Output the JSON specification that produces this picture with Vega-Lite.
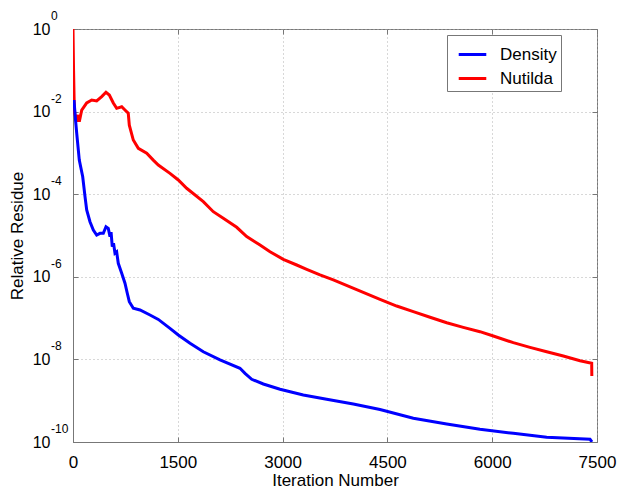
{
  "$schema": "https://vega.github.io/schema/vega-lite/v6.json",
  "autosize": "none",
  "width": 524,
  "height": 413,
  "padding": {"left": 73, "top": 29, "right": 20, "bottom": 54},
  "background": "white",
  "config": {
    "font": "Liberation Sans",
    "view": {"stroke": "#777777", "strokeWidth": 1},
    "axis": {
      "domainColor": "#777777",
      "tickColor": "#777777",
      "gridColor": "#b0b0b0",
      "gridDash": [1, 3],
      "gridWidth": 1,
      "labelColor": "black",
      "titleColor": "black",
      "labelFont": "Liberation Sans",
      "titleFont": "Liberation Sans",
      "titleFontWeight": "normal",
      "labelFontSize": 17,
      "titleFontSize": 17
    }
  },
  "datasets": {
    "exps": [
      {"v": 1, "e": "0"},
      {"v": 0.01, "e": "-2"},
      {"v": 0.0001, "e": "-4"},
      {"v": 0.000001, "e": "-6"},
      {"v": 1e-8, "e": "-8"},
      {"v": 1e-10, "e": "-10"}
    ],
    "curves": [
      {"series": "Nutilda", "iter": 0, "res": 1.0},
      {"series": "Nutilda", "iter": 8, "res": 0.1},
      {"series": "Nutilda", "iter": 16, "res": 0.02},
      {"series": "Nutilda", "iter": 24, "res": 0.0092},
      {"series": "Nutilda", "iter": 53, "res": 0.0057},
      {"series": "Nutilda", "iter": 76, "res": 0.0083},
      {"series": "Nutilda", "iter": 90, "res": 0.0057},
      {"series": "Nutilda", "iter": 125, "res": 0.0109},
      {"series": "Nutilda", "iter": 196, "res": 0.0162},
      {"series": "Nutilda", "iter": 268, "res": 0.0191},
      {"series": "Nutilda", "iter": 339, "res": 0.0181},
      {"series": "Nutilda", "iter": 411, "res": 0.023},
      {"series": "Nutilda", "iter": 472, "res": 0.0293},
      {"series": "Nutilda", "iter": 520, "res": 0.0252},
      {"series": "Nutilda", "iter": 577, "res": 0.0162},
      {"series": "Nutilda", "iter": 625, "res": 0.012},
      {"series": "Nutilda", "iter": 697, "res": 0.0131},
      {"series": "Nutilda", "iter": 744, "res": 0.0109},
      {"series": "Nutilda", "iter": 791, "res": 0.0091},
      {"series": "Nutilda", "iter": 806, "res": 0.0047},
      {"series": "Nutilda", "iter": 863, "res": 0.00205},
      {"series": "Nutilda", "iter": 935, "res": 0.00129},
      {"series": "Nutilda", "iter": 1055, "res": 0.00098},
      {"series": "Nutilda", "iter": 1149, "res": 0.00067},
      {"series": "Nutilda", "iter": 1221, "res": 0.00051},
      {"series": "Nutilda", "iter": 1388, "res": 0.00032},
      {"series": "Nutilda", "iter": 1507, "res": 0.000221},
      {"series": "Nutilda", "iter": 1627, "res": 0.000139},
      {"series": "Nutilda", "iter": 1865, "res": 6.6e-5},
      {"series": "Nutilda", "iter": 2008, "res": 3.77e-5},
      {"series": "Nutilda", "iter": 2151, "res": 2.61e-5},
      {"series": "Nutilda", "iter": 2343, "res": 1.58e-5},
      {"series": "Nutilda", "iter": 2486, "res": 9.4e-6},
      {"series": "Nutilda", "iter": 2677, "res": 5.9e-6},
      {"series": "Nutilda", "iter": 2820, "res": 4.05e-6},
      {"series": "Nutilda", "iter": 3010, "res": 2.65e-6},
      {"series": "Nutilda", "iter": 3202, "res": 1.93e-6},
      {"series": "Nutilda", "iter": 3345, "res": 1.52e-6},
      {"series": "Nutilda", "iter": 3535, "res": 1.11e-6},
      {"series": "Nutilda", "iter": 3726, "res": 8.4e-7},
      {"series": "Nutilda", "iter": 4060, "res": 4.9e-7},
      {"series": "Nutilda", "iter": 4394, "res": 2.85e-7},
      {"series": "Nutilda", "iter": 4633, "res": 1.96e-7},
      {"series": "Nutilda", "iter": 4871, "res": 1.43e-7},
      {"series": "Nutilda", "iter": 5110, "res": 1.05e-7},
      {"series": "Nutilda", "iter": 5349, "res": 7.7e-8},
      {"series": "Nutilda", "iter": 5586, "res": 5.98e-8},
      {"series": "Nutilda", "iter": 5825, "res": 4.69e-8},
      {"series": "Nutilda", "iter": 6016, "res": 3.69e-8},
      {"series": "Nutilda", "iter": 6302, "res": 2.54e-8},
      {"series": "Nutilda", "iter": 6541, "res": 1.96e-8},
      {"series": "Nutilda", "iter": 6780, "res": 1.53e-8},
      {"series": "Nutilda", "iter": 7018, "res": 1.21e-8},
      {"series": "Nutilda", "iter": 7257, "res": 9.3e-9},
      {"series": "Nutilda", "iter": 7424, "res": 8.05e-9},
      {"series": "Nutilda", "iter": 7426, "res": 3.96e-9},
      {"series": "Density", "iter": 14, "res": 0.0191},
      {"series": "Density", "iter": 36, "res": 0.0063},
      {"series": "Density", "iter": 53, "res": 0.003},
      {"series": "Density", "iter": 90, "res": 0.00067},
      {"series": "Density", "iter": 139, "res": 0.000265},
      {"series": "Density", "iter": 172, "res": 8.7e-5},
      {"series": "Density", "iter": 196, "res": 4.14e-5},
      {"series": "Density", "iter": 243, "res": 2.16e-5},
      {"series": "Density", "iter": 291, "res": 1.36e-5},
      {"series": "Density", "iter": 339, "res": 1.03e-5},
      {"series": "Density", "iter": 386, "res": 1.13e-5},
      {"series": "Density", "iter": 434, "res": 1.13e-5},
      {"series": "Density", "iter": 472, "res": 1.63e-5},
      {"series": "Density", "iter": 505, "res": 1.49e-5},
      {"series": "Density", "iter": 530, "res": 9.4e-6},
      {"series": "Density", "iter": 545, "res": 1.2e-5},
      {"series": "Density", "iter": 562, "res": 5.36e-6},
      {"series": "Density", "iter": 580, "res": 6.5e-6},
      {"series": "Density", "iter": 601, "res": 3.71e-6},
      {"series": "Density", "iter": 625, "res": 4.0e-6},
      {"series": "Density", "iter": 648, "res": 2.12e-6},
      {"series": "Density", "iter": 697, "res": 1.22e-6},
      {"series": "Density", "iter": 744, "res": 6.97e-7},
      {"series": "Density", "iter": 777, "res": 3.99e-7},
      {"series": "Density", "iter": 806, "res": 2.5e-7},
      {"series": "Density", "iter": 863, "res": 1.73e-7},
      {"series": "Density", "iter": 959, "res": 1.57e-7},
      {"series": "Density", "iter": 1102, "res": 1.19e-7},
      {"series": "Density", "iter": 1221, "res": 9.3e-8},
      {"series": "Density", "iter": 1388, "res": 5.66e-8},
      {"series": "Density", "iter": 1507, "res": 3.9e-8},
      {"series": "Density", "iter": 1675, "res": 2.45e-8},
      {"series": "Density", "iter": 1865, "res": 1.53e-8},
      {"series": "Density", "iter": 2104, "res": 9.7e-9},
      {"series": "Density", "iter": 2390, "res": 6.09e-9},
      {"series": "Density", "iter": 2462, "res": 4.6e-9},
      {"series": "Density", "iter": 2558, "res": 3.3e-9},
      {"series": "Density", "iter": 2724, "res": 2.54e-9},
      {"series": "Density", "iter": 2963, "res": 1.89e-9},
      {"series": "Density", "iter": 3296, "res": 1.37e-9},
      {"series": "Density", "iter": 3631, "res": 1.08e-9},
      {"series": "Density", "iter": 4012, "res": 8.3e-10},
      {"series": "Density", "iter": 4394, "res": 6.1e-10},
      {"series": "Density", "iter": 4871, "res": 3.75e-10},
      {"series": "Density", "iter": 5349, "res": 2.73e-10},
      {"series": "Density", "iter": 5825, "res": 2.03e-10},
      {"series": "Density", "iter": 6302, "res": 1.62e-10},
      {"series": "Density", "iter": 6780, "res": 1.3e-10},
      {"series": "Density", "iter": 7400, "res": 1.16e-10},
      {"series": "Density", "iter": 7428, "res": 1.0e-10}
    ]
  },
  "layer": [
    {
      "data": {"name": "curves"},
      "mark": {"type": "line", "strokeWidth": 3, "clip": true},
      "encoding": {
        "x": {
          "field": "iter", "type": "quantitative",
          "scale": {"domain": [0, 7500], "nice": false, "zero": false},
          "axis": {
            "orient": "bottom", "title": "Iteration Number",
            "values": [0, 1500, 3000, 4500, 6000, 7500],
            "format": "d",
            "tickSize": -5, "labelPadding": 17, "titlePadding": 2,
            "grid": true, "labelFlush": false
          }
        },
        "y": {
          "field": "res", "type": "quantitative",
          "scale": {"type": "log", "domain": [1e-10, 1], "nice": false},
          "axis": {
            "orient": "left", "title": "Relative Residue",
            "values": [1e-10, 1e-8, 1e-6, 1e-4, 1e-2, 1],
            "tickSize": -5, "labelPadding": 28, "titlePadding": 6,
            "labelFontSize": 16,
            "grid": true,
            "labelExpr": "'10'"
          }
        },
        "color": {
          "field": "series", "type": "nominal",
          "scale": {"domain": ["Density", "Nutilda"], "range": ["#0000ff", "#ff0000"]},
          "legend": {
            "title": null,
            "orient": "none",
            "legendX": 374,
            "legendY": 6,
            "direction": "vertical",
            "symbolType": "stroke",
            "symbolSize": 760,
            "symbolStrokeWidth": 3,
            "symbolOffset": 6,
            "labelFontSize": 17,
            "labelFont": "Liberation Sans",
            "labelColor": "black",
            "labelOffset": 12,
            "labelExpr": "datum.label + '\u00a0\u00a0\u00a0\u00a0\u00a0\u00a0\u00a0\u00a0\u00a0'",
            "rowPadding": 0,
            "padding": 4,
            "strokeColor": "#777777",
            "fillColor": "white"
          }
        }
      }
    },
    {
      "data": {"name": "curves"},
      "mark": {"type": "line", "strokeOpacity": 0},
      "encoding": {
        "x": {
          "field": "iter", "type": "quantitative",
          "axis": {
            "orient": "top", "title": null, "labels": false,
            "values": [0, 1500, 3000, 4500, 6000, 7500],
            "tickSize": -5, "grid": false, "domain": false
          }
        },
        "y": {
          "field": "res", "type": "quantitative",
          "axis": {
            "orient": "right", "title": null, "labels": false,
            "values": [1e-10, 1e-8, 1e-6, 1e-4, 1e-2, 1],
            "tickSize": -5, "grid": false, "domain": false
          }
        },
        "detail": {"field": "series"}
      }
    },
    {
      "data": {"name": "exps"},
      "mark": {"type": "text", "align": "left", "baseline": "middle", "dx": -22, "dy": -13, "fontSize": 12, "font": "Liberation Sans", "color": "black"},
      "encoding": {
        "x": {"datum": 0, "type": "quantitative", "axis": null},
        "y": {"field": "v", "type": "quantitative", "axis": null},
        "text": {"field": "e"}
      }
    }
  ],
  "resolve": {"axis": {"x": "independent", "y": "independent"}}
}
